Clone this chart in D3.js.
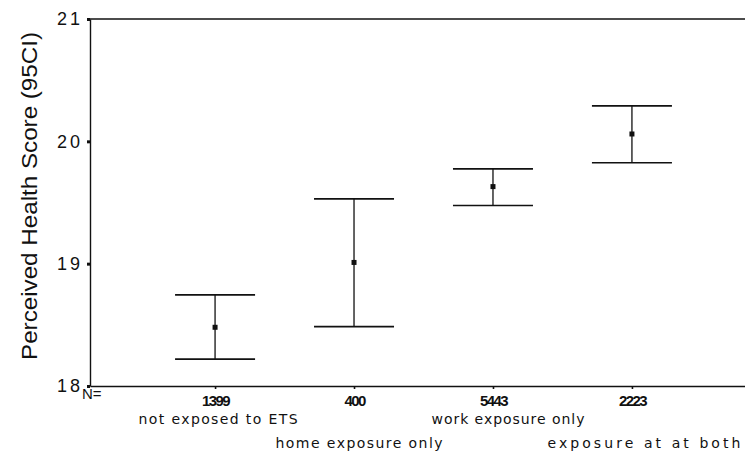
<!DOCTYPE html>
<html>
<head>
<meta charset="utf-8">
<script src="https://cdn.jsdelivr.net/npm/d3@7/dist/d3.min.js"></script>
<style>
  html, body { margin: 0; padding: 0; background: #fff; }
  svg { display: block; }
  text { fill: #111; }
</style>
</head>
<body>
<svg id="chart" width="745" height="456"></svg>
<script>
// Exposure groups, sample sizes and 95% confidence intervals of the mean score
const groups = ["not exposed to ETS", "home exposure only", "work exposure only", "exposure at at both"];
const counts = [1399, 400, 5443, 2223];
const means  = [18.48, 19.01, 19.63, 20.06];
const lower  = [18.22, 18.485, 19.475, 19.825];
const upper  = [18.745, 19.53, 19.775, 20.29];
const yTicks = [18, 19, 20, 21];

const svg = d3.select("#chart");
const ink = "#111";
const sans = "'Liberation Sans', Arial, Helvetica, sans-serif";
const wide = "'DejaVu Sans', Verdana, sans-serif";

const y = d3.scaleLinear().domain([18, 21]).range([386, 19]);
const x = d3.scalePoint().domain(groups).range([90, 757]).padding(0.9);

// frame: top rule
svg.append("line")
  .attr("x1", 90).attr("x2", 745)
  .attr("y1", y(21)).attr("y2", y(21))
  .attr("stroke", ink).attr("stroke-width", 1.6);

// value axis
const yAxis = svg.append("g")
  .attr("transform", "translate(90,0)")
  .call(d3.axisLeft(y).tickValues(yTicks).tickSize(3).tickSizeOuter(0).tickPadding(4).tickFormat(d3.format("d")));
yAxis.select(".domain").attr("stroke", ink).attr("stroke-width", 1.4);
yAxis.selectAll(".tick line").attr("stroke", ink).attr("stroke-width", 3);
yAxis.selectAll(".tick text")
  .attr("fill", ink)
  .style("font-family", sans)
  .style("font-size", "18px")
  .style("letter-spacing", "3px");

// category axis with sample sizes
const xAxis = svg.append("g")
  .attr("transform", `translate(0,${y(18)})`)
  .call(d3.axisBottom(x).tickSize(3).tickSizeOuter(0).tickPadding(0)
    .tickFormat((d, i) => String(counts[i])));
xAxis.select(".domain").attr("stroke", ink).attr("stroke-width", 1.6);
xAxis.selectAll(".tick line").attr("stroke", ink).attr("stroke-width", 1.6);
xAxis.selectAll(".tick text")
  .attr("fill", ink)
  .attr("y", 20)
  .attr("dy", null)
  .style("font-family", sans)
  .style("font-size", "15px")
  .style("font-weight", "bold")
  .style("letter-spacing", "-1.6px");

svg.append("text")
  .attr("x", 82).attr("y", 399)
  .attr("font-size", 15)
  .style("font-family", sans)
  .style("font-size", "15px")
  .text("N=");

// staggered group names
const groupShift = [3, 5, 15, 12];
const groupWidth = [159, 167, 153, 193];
svg.selectAll("text.group")
  .data(groups)
  .join("text")
  .attr("class", "group")
  .attr("x", (d, i) => x(d) + groupShift[i])
  .attr("y", (d, i) => i % 2 === 0 ? 424 : 448)
  .attr("text-anchor", "middle")
  .attr("textLength", (d, i) => groupWidth[i])
  .attr("lengthAdjust", "spacing")
  .style("font-family", wide)
  .style("font-size", "14px")
  .text(d => d);

// y-axis title
svg.append("text")
  .attr("transform", "translate(37,196) rotate(-90)")
  .attr("text-anchor", "middle")
  .attr("textLength", 328)
  .attr("lengthAdjust", "spacingAndGlyphs")
  .style("font-family", sans)
  .style("font-size", "22px")
  .text("Perceived Health Score (95CI)");

// error bars
const capHalf = 40;
const bars = svg.selectAll("g.ci")
  .data(groups.map((g, i) => ({ g, mean: means[i], lo: lower[i], hi: upper[i] })))
  .join("g")
  .attr("class", "ci");

bars.append("line")
  .attr("x1", d => x(d.g)).attr("x2", d => x(d.g))
  .attr("y1", d => y(d.hi)).attr("y2", d => y(d.lo))
  .attr("stroke", ink).attr("stroke-width", 1.3);

bars.append("line")
  .attr("x1", d => x(d.g) - capHalf).attr("x2", d => x(d.g) + capHalf)
  .attr("y1", d => y(d.hi)).attr("y2", d => y(d.hi))
  .attr("stroke", ink).attr("stroke-width", 1.6);

bars.append("line")
  .attr("x1", d => x(d.g) - capHalf).attr("x2", d => x(d.g) + capHalf)
  .attr("y1", d => y(d.lo)).attr("y2", d => y(d.lo))
  .attr("stroke", ink).attr("stroke-width", 1.6);

bars.append("rect")
  .attr("x", d => x(d.g) - 2.5).attr("y", d => y(d.mean) - 2.5)
  .attr("width", 5).attr("height", 5)
  .attr("fill", ink);
</script>
</body>
</html>
